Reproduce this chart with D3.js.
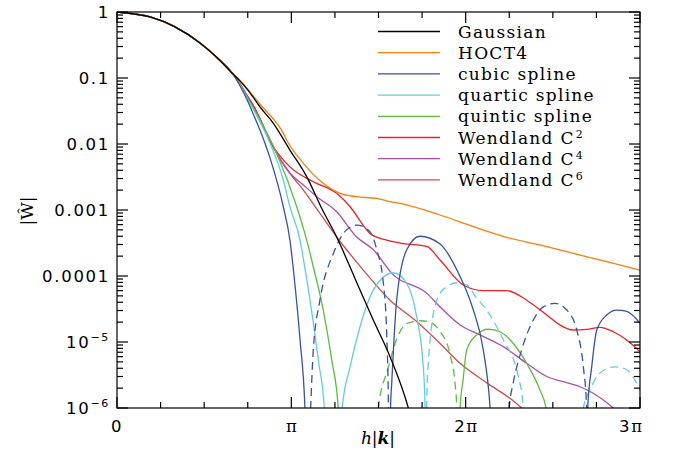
<!DOCTYPE html>
<html>
<head>
<meta charset="utf-8">
<script src="https://cdn.jsdelivr.net/npm/d3@7"></script>
<style>
  body { margin: 0; background: #fff; }
  svg { display: block; }
  .tick-label { font-family: "DejaVu Sans", sans-serif; font-size: 16.5px; letter-spacing: 1.7px; fill: #000; }
  .legend-label { font-family: "DejaVu Serif", serif; font-size: 17px; letter-spacing: 1.3px; fill: #000; }
  .axis-title { font-family: "DejaVu Serif", serif; font-size: 17px; fill: #000; }
</style>
</head>
<body>
<div id="chart"></div>
<script>
// x values are in units of pi (h|k| / pi), y values are |W^|

// shared start of all kernels (curves lie on top of each other here)
const bundle = [[0, 1], [0.19, 0.84], [0.33, 0.60], [0.48, 0.333], [0.57, 0.208], [0.665, 0.115]];

const gaussian = [[0.706, 0.0898], [0.744, 0.069], [0.782, 0.0507], [0.82, 0.0365], [0.897, 0.0206],
  [0.992, 0.0081], [1.088, 0.0032], [1.174, 0.00106], [1.26, 0.00039], [1.365, 9.2e-5], [1.47, 2.15e-5],
  [1.566, 6e-6], [1.671, 1e-6], [1.72, 3e-7]];

const hoct4 = [[0.706, 0.092], [0.744, 0.0705], [0.782, 0.053], [0.82, 0.04], [0.954, 0.0145], [0.973, 0.0115],
  [1.069, 0.0051], [1.183, 0.00254], [1.279, 0.00179], [1.375, 0.00159], [1.49, 0.0015], [1.566, 0.00134],
  [1.623, 0.00126], [1.853, 0.00084], [2.044, 0.00056], [2.235, 0.000386], [2.426, 0.000295], [2.617, 0.00022],
  [2.809, 0.000165], [3.0, 0.000123]];

const cubicSolid = [
  [[0.706, 0.0757], [0.744, 0.048], [0.782, 0.0283], [0.82, 0.0163], [0.878, 0.0061], [0.954, 0.00112],
   [0.992, 0.00035], [1.021, 7.3e-5], [1.05, 1.07e-5], [1.078, 1e-6], [1.09, 1e-7]],
  [[1.565, 1e-7], [1.569, 1e-6], [1.576, 2.4e-6], [1.604, 4.3e-5], [1.662, 0.00025], [1.738, 0.0004],
   [1.853, 0.000305], [1.968, 9.8e-5], [2.025, 4.3e-5], [2.044, 3.05e-5], [2.101, 7.6e-6], [2.14, 1e-6], [2.16, 1e-7]],
  [[2.697, 1e-7], [2.7, 1e-6], [2.723, 4.2e-6], [2.752, 1.52e-5], [2.809, 2.56e-5], [2.866, 3.05e-5],
   [2.924, 2.9e-5], [3.0, 1.92e-5]]
];
const cubicDashed = [
  [[1.098, 1e-7], [1.111, 1e-6], [1.126, 7.6e-6], [1.164, 4.3e-5], [1.241, 0.00022], [1.317, 0.0005],
   [1.375, 0.00059], [1.451, 0.00047], [1.49, 0.00025], [1.528, 7.7e-5], [1.547, 1.35e-5], [1.557, 1e-6], [1.561, 1e-7]],
  [[2.235, 1e-7], [2.25, 1e-6], [2.273, 2.4e-6], [2.321, 7.6e-6], [2.388, 2.15e-5], [2.445, 3.4e-5],
   [2.512, 3.85e-5], [2.58, 3.05e-5], [2.637, 1.52e-5], [2.675, 4.2e-6], [2.694, 1e-6], [2.698, 1e-7]]
];

const quarticSolid = [
  [[0.706, 0.078], [0.744, 0.051], [0.782, 0.0335], [0.82, 0.0215], [0.878, 0.0103], [0.954, 0.00285],
   [0.992, 0.00112], [1.05, 0.00035], [1.084, 0.000104], [1.124, 2.15e-5], [1.159, 4.5e-6], [1.189, 1e-6], [1.198, 1e-7]],
  [[1.283, 1e-7], [1.292, 1e-6], [1.337, 4.2e-6], [1.394, 1.7e-5], [1.47, 6.1e-5], [1.585, 0.000112],
   [1.662, 7.7e-5], [1.719, 2.4e-5], [1.757, 4.2e-6], [1.767, 1e-6], [1.771, 1e-7]]
];
const quarticDashed = [
  [[1.772, 1e-7], [1.776, 1e-6], [1.784, 4.2e-6], [1.834, 4.3e-5], [1.891, 6.9e-5], [1.95, 7.9e-5],
   [2.006, 7.3e-5], [2.063, 4.6e-5], [2.111, 3.3e-5], [2.216, 1.07e-5], [2.302, 3.0e-6], [2.331, 1e-6], [2.338, 1e-7]],
  [[2.66, 1e-7], [2.675, 1e-6], [2.713, 1.87e-6], [2.771, 3.4e-6], [2.857, 4.2e-6], [2.924, 3.8e-6], [3.0, 1.87e-6]]
];

const quinticSolid = [
  [[0.706, 0.079], [0.744, 0.0525], [0.782, 0.035], [0.82, 0.0233], [0.916, 0.0072], [1.031, 0.00112],
   [1.088, 0.00035], [1.126, 0.000138], [1.183, 3.05e-5], [1.232, 5.3e-6], [1.269, 1e-6], [1.278, 1e-7]],
  [[1.96, 1e-7], [1.968, 1e-6], [1.985, 2.65e-6], [2.006, 7.6e-6], [2.063, 1.28e-5], [2.13, 1.56e-5],
   [2.197, 1.43e-5], [2.273, 9.5e-6], [2.35, 4.75e-6], [2.426, 1.87e-6], [2.461, 1e-6], [2.47, 1e-7]]
];
const quinticDashed = [
  [[1.49, 1e-7], [1.499, 1e-6], [1.555, 4.0e-6], [1.604, 1.1e-5], [1.662, 1.9e-5], [1.738, 2.1e-5],
   [1.795, 2.0e-5], [1.853, 1.45e-5], [1.91, 6.5e-6], [1.94, 2.2e-6], [1.949, 1e-6], [1.955, 1e-7]]
];

const wendlandC2 = [[0.706, 0.081], [0.744, 0.055], [0.782, 0.038], [0.82, 0.024], [0.878, 0.011],
  [0.992, 0.0045], [1.126, 0.00268], [1.26, 0.00179], [1.337, 0.00112], [1.432, 0.0005], [1.451, 0.00044],
  [1.547, 0.00035], [1.641, 0.00031], [1.776, 0.00028], [1.853, 0.000175], [1.986, 7.3e-5], [2.101, 6.0e-5],
  [2.235, 6.0e-5], [2.35, 4.3e-5], [2.465, 2.56e-5], [2.541, 1.81e-5], [2.617, 1.52e-5], [2.694, 1.55e-5],
  [2.771, 1.67e-5], [2.847, 1.43e-5], [2.924, 1.07e-5], [3.0, 7.1e-6]];

const wendlandC4 = [[0.706, 0.081], [0.744, 0.055], [0.782, 0.038], [0.82, 0.024], [0.897, 0.0088],
  [0.992, 0.0036], [1.069, 0.0024], [1.146, 0.00159], [1.26, 0.00094], [1.375, 0.00039], [1.47, 0.00025],
  [1.585, 0.000104], [1.776, 5.5e-5], [1.853, 3.4e-5], [1.968, 1.81e-5], [2.082, 1.28e-5], [2.216, 8.5e-6],
  [2.35, 4.75e-6], [2.465, 3.0e-6], [2.56, 2.5e-6], [2.656, 2.1e-6], [2.732, 1.67e-6], [2.847, 1e-6], [2.943, 5.6e-7]];

const wendlandC6 = [[0.706, 0.081], [0.744, 0.055], [0.782, 0.038], [0.82, 0.024], [0.878, 0.0112],
  [0.992, 0.0036], [1.069, 0.002], [1.164, 0.00089], [1.26, 0.00039], [1.413, 0.000123], [1.566, 4.3e-5],
  [1.709, 2.15e-5], [1.853, 9.5e-6], [1.968, 4.75e-6], [2.121, 2.4e-6], [2.254, 1.4e-6], [2.321, 1e-6], [2.426, 5.6e-7]];

const legendNames = ['Gaussian', 'HOCT4', 'cubic spline', 'quartic spline', 'quintic spline',
  'Wendland C|2', 'Wendland C|4', 'Wendland C|6'];
const colors = ['#000000', '#ff7f0e', '#3553a4', '#5fcfe0', '#5cbf3c', '#f02020', '#b04cb0', '#cc5050'];

const yTickValues = [1, 0.1, 0.01, 0.001, 0.0001, 1e-5, 1e-6];
const yTickLabels = ['1', '0.1', '0.01', '0.001', '0.0001', '10|−5', '10|−6'];
const xTickValues = [0, 1, 2, 3];
const xTickLabels = ['0', 'π', '2π', '3π'];

// ── Layout ────────────────────────────────────────────────────────────────
const W = 681, H = 451;
const m = { left: 117, right: 640, top: 12, bottom: 408 };

const x = d3.scaleLinear().domain([0, 3]).range([m.left, m.right]);
const y = d3.scaleLog().domain([1e-6, 1]).range([m.bottom, m.top]);

const svg = d3.select('#chart').append('svg').attr('width', W).attr('height', H);

svg.append('clipPath').attr('id', 'plot-clip')
  .append('rect')
  .attr('x', m.left).attr('y', m.top)
  .attr('width', m.right - m.left).attr('height', m.bottom - m.top);

// series built from the arrays above
const series = [
  { solid: [bundle.concat(gaussian)], dashed: [] },
  { solid: [bundle.concat(hoct4)], dashed: [] },
  { solid: [bundle.concat(cubicSolid[0])].concat(cubicSolid.slice(1)), dashed: cubicDashed },
  { solid: [bundle.concat(quarticSolid[0])].concat(quarticSolid.slice(1)), dashed: quarticDashed },
  { solid: [bundle.concat(quinticSolid[0])].concat(quinticSolid.slice(1)), dashed: quinticDashed },
  { solid: [bundle.concat(wendlandC2)], dashed: [] },
  { solid: [bundle.concat(wendlandC4)], dashed: [] },
  { solid: [bundle.concat(wendlandC6)], dashed: [] },
];

const line = d3.line()
  .x(d => x(d[0]))
  .y(d => y(d[1]))
  .curve(d3.curveMonotoneX);

const plot = svg.append('g').attr('clip-path', 'url(#plot-clip)');

// draw in reverse legend order so Gaussian/HOCT4 sit on top like the original
series.slice().reverse().forEach((s, ri) => {
  const i = series.length - 1 - ri;
  s.solid.forEach(seg => {
    plot.append('path')
      .attr('d', line(seg))
      .attr('fill', 'none')
      .attr('stroke', colors[i])
      .attr('stroke-width', 1.3);
  });
  s.dashed.forEach(seg => {
    plot.append('path')
      .attr('d', line(seg))
      .attr('fill', 'none')
      .attr('stroke', colors[i])
      .attr('stroke-width', 1.3)
      .attr('stroke-dasharray', '8,5');
  });
});

// ── Frame + ticks ─────────────────────────────────────────────────────────
const axes = svg.append('g').attr('stroke', '#000').attr('stroke-width', 1.2);

axes.append('rect')
  .attr('x', m.left).attr('y', m.top)
  .attr('width', m.right - m.left).attr('height', m.bottom - m.top)
  .attr('fill', 'none');

const majorLen = 11, minorLen = 6;

d3.range(0, 3.001, 0.25).forEach(v => {
  const len = Math.abs(v - Math.round(v)) < 1e-6 ? majorLen : minorLen;
  const px = x(v);
  axes.append('line').attr('x1', px).attr('x2', px).attr('y1', m.bottom).attr('y2', m.bottom - len);
  axes.append('line').attr('x1', px).attr('x2', px).attr('y1', m.top).attr('y2', m.top + len);
});

const yTicksAll = [];
for (let e = -6; e <= 0; e++) {
  yTicksAll.push({ v: Math.pow(10, e), major: true });
  if (e < 0) for (let k = 2; k <= 9; k++) yTicksAll.push({ v: k * Math.pow(10, e), major: false });
}
yTicksAll.forEach(t => {
  const py = y(t.v);
  const len = t.major ? majorLen : minorLen;
  axes.append('line').attr('x1', m.left).attr('x2', m.left + len).attr('y1', py).attr('y2', py);
  axes.append('line').attr('x1', m.right).attr('x2', m.right - len).attr('y1', py).attr('y2', py);
});

// ── Tick labels ───────────────────────────────────────────────────────────
yTickValues.forEach((v, i) => {
  const parts = yTickLabels[i].split('|');
  const t = svg.append('text')
    .attr('class', 'tick-label')
    .attr('x', m.left - 7)
    .attr('y', y(v) + 6)
    .attr('text-anchor', 'end');
  t.append('tspan').text(parts[0]);
  if (parts[1]) {
    t.append('tspan').attr('dy', -7).attr('font-size', 11).text(parts[1]);
  }
});

xTickValues.forEach((v, i) => {
  const lbl = xTickLabels[i];
  const t = svg.append('text')
    .attr('class', 'tick-label')
    .attr('x', i === 3 ? x(v) + 2 : x(v))
    .attr('y', 432)
    .attr('text-anchor', i === 3 ? 'end' : 'middle');
  const num = lbl.replace('π', '');
  if (num) t.append('tspan').text(num);
  if (lbl.includes('π')) {
    t.append('tspan').attr('font-family', 'DejaVu Serif, serif')
      .attr('letter-spacing', 0).text('π');
  }
});

// ── Axis titles ───────────────────────────────────────────────────────────
const xt = svg.append('text').attr('class', 'axis-title')
  .attr('x', 378).attr('y', 444).attr('text-anchor', 'middle');
xt.append('tspan').attr('font-style', 'italic').text('h');
xt.append('tspan').text('|');
xt.append('tspan').attr('font-style', 'italic').attr('font-weight', 'bold').text('k');
xt.append('tspan').text('|');

svg.append('text').attr('class', 'axis-title')
  .attr('transform', 'translate(33,211) rotate(-90)')
  .attr('text-anchor', 'middle')
  .attr('font-size', 15)
  .text('|Ŵ|');

// ── Legend ────────────────────────────────────────────────────────────────
legendNames.forEach((name, i) => {
  const ly = 31.5 + i * 21.2;
  const parts = name.split('|');
  svg.append('line')
    .attr('x1', 378).attr('x2', 440).attr('y1', ly).attr('y2', ly)
    .attr('stroke', colors[i]).attr('stroke-width', 1.3);
  const t = svg.append('text')
    .attr('class', 'legend-label')
    .attr('x', 458).attr('y', ly + 6);
  t.append('tspan').text(parts[0]);
  if (parts[1]) {
    t.append('tspan').attr('dx', 1).attr('dy', -6).attr('font-size', 11).text(parts[1]);
  }
});
</script>
</body>
</html>
